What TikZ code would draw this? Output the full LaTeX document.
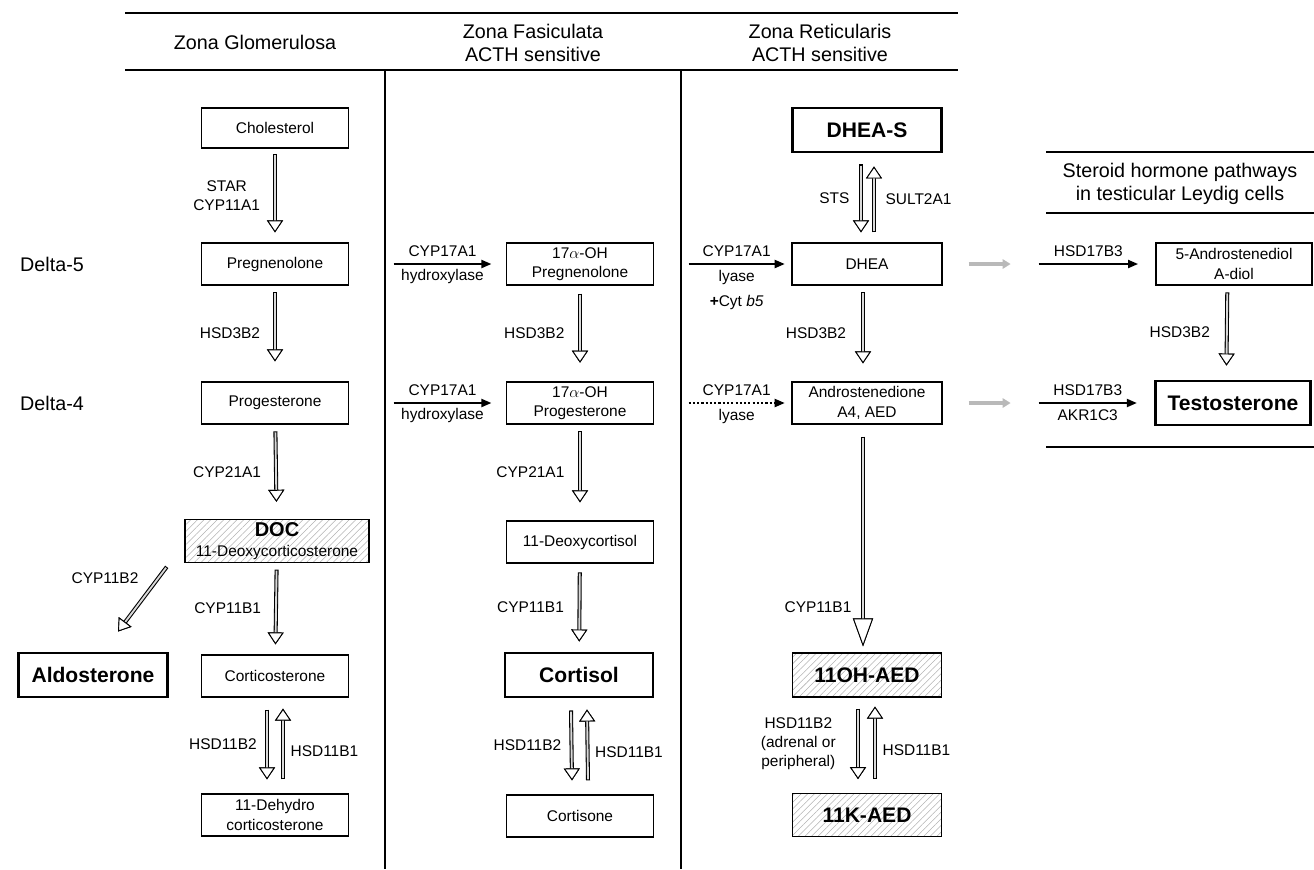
\documentclass[tikz,border=0pt]{standalone}
\usepackage{fontspec}
\setmainfont{Liberation Sans}
\usetikzlibrary{positioning}
\usetikzlibrary{arrows.meta}
\usetikzlibrary{patterns.meta}
\tikzset{%
	% Specifications for style of nodes:
	base/.style = {rectangle, draw=black, line width=0.9pt, inner sep=2pt,
		align=center, font=\fontsize{11.6pt}{14.5pt}\selectfont},
	compound/.style = {base, minimum width=110pt, minimum height=31.5pt},
	product/.style = {base, line width=2.2pt, minimum height=33pt,
		font=\fontsize{15.8pt}{18pt}\selectfont\bfseries},
	hatched/.style = {base, line width=0.8pt, minimum height=32pt,
		pattern={Lines[angle=45, distance=3.5pt, line width=0.4pt]}, pattern color=gray!60},
	enzyme/.style = {inner sep=1pt, align=center, font=\fontsize{11.6pt}{14.5pt}\selectfont},
	header/.style = {align=center, font=\fontsize{14.8pt}{17pt}\selectfont},
	rule/.style = {line width=0.9pt},
	% Specifications for style of arrows:
	hollow/.style 2 args = {draw=gray!30, line width=1.4pt,
		shorten <=#1+0.8pt, shorten >=#2,
		-{Triangle[color=black, fill=white, line width=0.7pt, length=9pt, width=12pt]},
		preaction={draw=black, line width=3pt, shorten <=#1, shorten >=#2,
			-{Triangle[color=black, fill=white, line width=0.7pt, length=9pt, width=12pt]}}},
	bigHollow/.style 2 args = {draw=gray!30, line width=1.4pt,
		shorten <=#1+0.8pt, shorten >=#2,
		-{Triangle[color=black, fill=white, line width=0.7pt, length=21pt, width=15pt]},
		preaction={draw=black, line width=3pt, shorten <=#1, shorten >=#2,
			-{Triangle[color=black, fill=white, line width=0.7pt, length=21pt, width=15pt]}}},
	reaction/.style = {line width=1.5pt, -{Triangle[length=7.5pt, width=6pt]}},
	weakReaction/.style = {reaction, dash pattern=on 1.6pt off 1.6pt},
	transfer/.style = {draw=gray!55, line width=2.8pt, -{Triangle[length=6pt, width=7pt]}}
}
\begin{document}
\begin{tikzpicture}[x=0.75pt, y=-0.75pt]
	\useasboundingbox (0,0) rectangle (1314,869);
	%% Zone headers
	\draw[rule] (125,13) -- (958,13);
	\draw[rule] (125,70) -- (958,70);
	\draw[rule] (385,70) -- (385,869);
	\draw[rule] (681,70) -- (681,869);
	\node[header] (glomHead) at (255,42) {Zona Glomerulosa};
	\node[header] (fascHead) at (533,43) {Zona Fasiculata\\ACTH sensitive};
	\node[header] (retiHead) at (820,43) {Zona Reticularis\\ACTH sensitive};
	%% Zona Glomerulosa
	\node[compound, minimum height=30pt] (chol) at (275,128) {Cholesterol};
	\node[compound] (preg) at (275,264) {Pregnenolone};
	\node[compound] (prog) at (275,403) {Progesterone};
	\node[hatched, minimum width=138pt] (doc) at (277,541) {{\bfseries\fontsize{15pt}{15pt}\selectfont DOC}\\[1pt]11-Deoxycorticosterone};
	\node[compound] (cort) at (275,676) {Corticosterone};
	\node[compound] (dehydroCort) at (275,815) {11-Dehydro\\corticosterone};
	\node[product, minimum width=112pt] (aldo) at (93,675) {Aldosterone};
	\node[header] (deltaFive) at (52,264) {Delta-5};
	\node[header] (deltaFour) at (52,403) {Delta-4};
	\draw[hollow={4pt}{7.5pt}] (chol) -- (preg) node[enzyme, midway, left=9.5pt] (starLbl) {STAR\\CYP11A1};
	\draw[hollow={5pt}{15pt}] (preg) -- (prog) node[enzyme, midway, left=9.5pt] (hsdLblA) {HSD3B2};
	\draw[hollow={5pt}{13pt}] (prog) -- (doc) node[enzyme, midway, left=9.5pt] (cypLblA) {CYP21A1};
	\draw[hollow={5pt}{7.5pt}] (doc) -- (cort) node[enzyme, midway, left=9.5pt] (cypLblB) {CYP11B1};
	\coordinate (docFoot) at ([shift={(-18,4)}]doc.south west);
	\coordinate (aldoTip) at ([shift={(25,-20)}]aldo.north);
	\draw[hollow={0pt}{0pt}] (docFoot) -- (aldoTip);
	\node[enzyme] (cypLblC) at (105,578) {CYP11B2};
	\draw[hollow={0pt}{0pt}] ([shift={(-8,12)}]cort.south) -- ([shift={(-8,-14)}]dehydroCort.north) node[enzyme, midway, left=6pt] (hsdLblB) {HSD11B2};
	\draw[hollow={0pt}{0pt}] ([shift={(8,-14)}]dehydroCort.north) -- ([shift={(8,11)}]cort.south) node[enzyme, pos=0.4, right=4pt] (hsdLblC) {HSD11B1};
	%% Zona Fasciculata
	\node[compound] (ohPreg) at (580,264) {17$\alpha$-OH\\Pregnenolone};
	\node[compound] (ohProg) at (580,403) {17$\alpha$-OH\\Progesterone};
	\node[compound] (deoxyCortisol) at (580,542) {11-Deoxycortisol};
	\node[product, minimum width=111pt] (cortisol) at (579,675) {Cortisol};
	\node[compound] (cortisone) at (580,816) {Cortisone};
	\draw[reaction] ([xshift=33.5pt]preg.east) -- ([xshift=-11pt]ohPreg.west)
		node[enzyme, midway, above=3.5pt] (hydroxLblA) {CYP17A1}
		node[enzyme, midway, below=2.5pt] (hydroxLblB) {hydroxylase};
	\draw[reaction] ([xshift=33.5pt]prog.east) -- ([xshift=-11pt]ohProg.west)
		node[enzyme, midway, above=3.5pt] (hydroxLblC) {CYP17A1}
		node[enzyme, midway, below=2.5pt] (hydroxLblD) {hydroxylase};
	\draw[hollow={6pt}{14pt}] (ohPreg) -- (ohProg) node[enzyme, midway, left=10pt] (hsdLblD) {HSD3B2};
	\draw[hollow={5pt}{13.5pt}] (ohProg) -- (deoxyCortisol) node[enzyme, midway, left=10pt] (cypLblD) {CYP21A1};
	\draw[hollow={6.5pt}{7.5pt}] (deoxyCortisol) -- (cortisol) node[enzyme, midway, left=10pt] (cypLblE) {CYP11B1};
	\draw[hollow={0pt}{0pt}] ([shift={(-8,12)}]cortisol.south) -- ([shift={(-8,-14)}]cortisone.north) node[enzyme, midway, left=6pt] (hsdLblE) {HSD11B2};
	\draw[hollow={0pt}{0pt}] ([shift={(8,-14)}]cortisone.north) -- ([shift={(8,11)}]cortisol.south) node[enzyme, pos=0.4, right=4pt] (hsdLblF) {HSD11B1};
	%% Zona Reticularis
	\node[product, minimum width=112pt] (dheaS) at (867,130) {DHEA-S};
	\node[compound, minimum width=112.5pt] (dhea) at (867,264) {DHEA};
	\node[compound, minimum width=112.5pt] (andro) at (867,403) {Androstenedione\\A4, AED};
	\node[hatched, minimum width=112pt, minimum height=33pt, font=\fontsize{15.8pt}{18pt}\selectfont\bfseries] (ohAed) at (867,675) {11OH-AED};
	\node[hatched, minimum width=112pt, minimum height=32pt, font=\fontsize{15.8pt}{18pt}\selectfont\bfseries] (kAed) at (867,815) {11K-AED};
	\draw[hollow={0pt}{0pt}] ([shift={(-6,11)}]dheaS.south) -- ([shift={(-6,-10)}]dhea.north) node[enzyme, midway, left=7pt] (stsLbl) {STS};
	\draw[hollow={0pt}{0pt}] ([shift={(7,-10)}]dhea.north) -- ([shift={(7,13)}]dheaS.south) node[enzyme, midway, right=7pt] (sultLbl) {SULT2A1};
	\draw[reaction] ([xshift=26pt]ohPreg.east) -- ([xshift=-5pt]dhea.west)
		node[enzyme, midway, above=3.5pt] (lyaseLblA) {CYP17A1}
		node[enzyme, midway, below=3pt] (lyaseLblB) {lyase};
	\node[enzyme, below=5pt of lyaseLblB] (cytLbl) {\textbf{+}Cyt \textit{b5}};
	\draw[weakReaction] ([xshift=26pt]ohProg.east) -- ([xshift=-5pt]andro.west)
		node[enzyme, midway, above=3.5pt] (lyaseLblC) {CYP17A1}
		node[enzyme, midway, below=3pt] (lyaseLblD) {lyase};
	\draw[hollow={5pt}{13.5pt}] ([xshift=-3pt]dhea.south) -- ([xshift=-3pt]andro.north) node[enzyme, midway, left=11pt] (hsdLblG) {HSD3B2};
	\draw[bigHollow={9pt}{4.5pt}] ([xshift=-3pt]andro.south) -- ([xshift=-3pt]ohAed.north) node[enzyme, pos=0.8, left=7pt] (cypLblF) {CYP11B1};
	\draw[hollow={0pt}{0pt}] ([shift={(-9,11)}]ohAed.south) -- ([shift={(-9,-14)}]kAed.north) node[enzyme, midway, left=15pt] (hsdLblH) {HSD11B2\\(adrenal or\\peripheral)};
	\draw[hollow={0pt}{0pt}] ([shift={(8,-14)}]kAed.north) -- ([shift={(8,9)}]ohAed.south) node[enzyme, pos=0.4, right=4pt] (hsdLblI) {HSD11B1};
	%% Leydig cells
	\draw[rule] (1046,152) -- (1314,152);
	\draw[rule] (1046,213) -- (1314,213);
	\draw[rule] (1046,447) -- (1314,447);
	\node[header] (leydigHead) at (1180,184) {Steroid hormone pathways\\in testicular Leydig cells};
	\node[compound, minimum width=117pt] (andiol) at (1234,264) {5-Androstenediol\\A-diol};
	\node[product, minimum width=116pt] (testo) at (1233,403) {Testosterone};
	\draw[transfer] ([xshift=19.5pt]dhea.east) -- ([xshift=51pt]dhea.east);
	\draw[transfer] ([xshift=19.5pt]andro.east) -- ([xshift=51pt]andro.east);
	\draw[reaction] ([xshift=72pt]dhea.east) -- ([xshift=-13pt]andiol.west)
		node[enzyme, midway, above=3.5pt] (hsdLblJ) {HSD17B3};
	\draw[reaction] ([xshift=72pt]andro.east) -- ([xshift=-13pt]testo.west)
		node[enzyme, midway, above=3.5pt] (hsdLblK) {HSD17B3}
		node[enzyme, midway, below=3pt] (akrLbl) {AKR1C3};
	\draw[hollow={5pt}{10.5pt}] ([xshift=-5pt]andiol.south) -- ([xshift=-5pt]testo.north) node[enzyme, midway, left=11pt] (hsdLblL) {HSD3B2};
\end{tikzpicture}
\end{document}
